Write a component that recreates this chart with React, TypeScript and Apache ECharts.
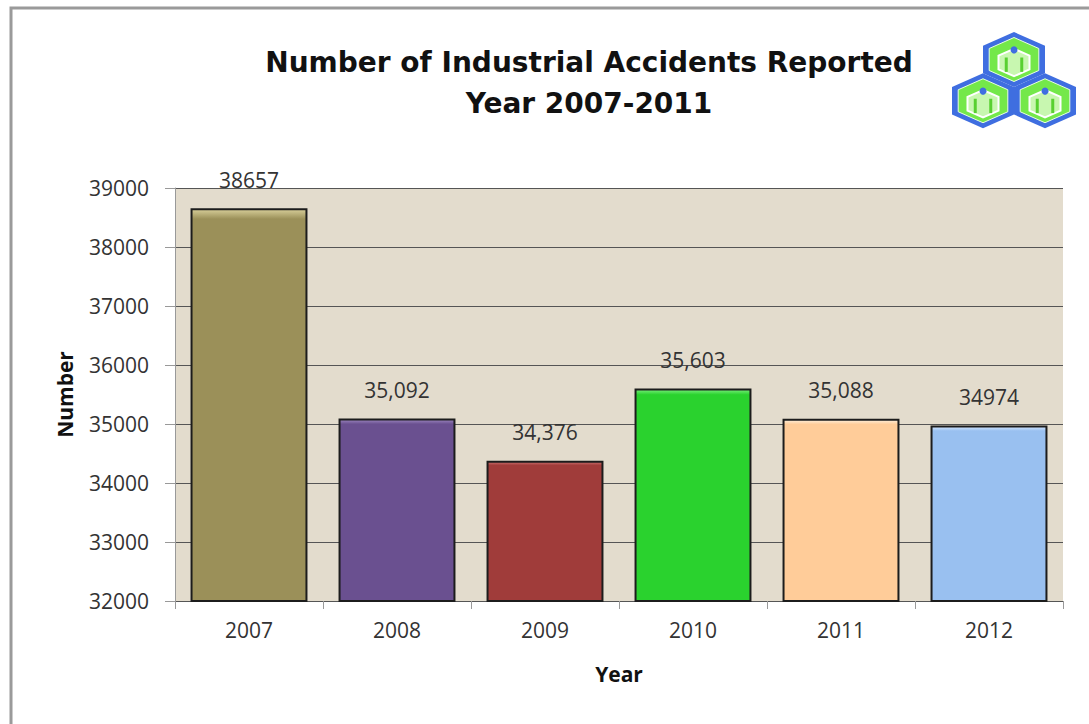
import React, { useEffect, useRef } from "react";
import * as echarts from "echarts";

const categories = ["2007", "2008", "2009", "2010", "2011", "2012"];
const values = [38657, 35092, 34376, 35603, 35088, 34974];
const labelTexts = ["38657", "35,092", "34,376", "35,603", "35,088", "34974"];
const barColors = ["#9b9059", "#6a5090", "#a03c3a", "#2ad22e", "#ffcc99", "#99c0f0"];
const barTops = ["#d8cf9a", "#9c86c0", "#cf7270", "#7bf07e", "#fff0dc", "#d6e8ff"];

function hexPoints(cx: number, cy: number, w: number, h: number): number[][] {
  return [
    [cx, cy - h],
    [cx + w, cy - h / 2],
    [cx + w, cy + h / 2],
    [cx, cy + h],
    [cx - w, cy + h / 2],
    [cx - w, cy - h / 2],
  ];
}

function buildLogo(): any[] {
  const w = 31;
  const h = 27.5;
  const cx = 1014;
  const cy = 59.5;
  const centers = [
    [cx, cy],
    [cx - w, cy + 1.5 * h],
    [cx + w, cy + 1.5 * h],
  ];
  const els: any[] = [];
  centers.forEach(([x, y]) => {
    els.push({ type: "polygon", shape: { points: hexPoints(x, y, w, h) }, style: { fill: "#3f6ee0" } });
  });
  centers.forEach(([x, y]) => {
    els.push({ type: "polygon", shape: { points: hexPoints(x, y, w * 0.8, h * 0.8) }, style: { fill: "#74e84a", stroke: "#e8ffe0", lineWidth: 1 } });
    els.push({ type: "polygon", shape: { points: hexPoints(x, y + 3, w * 0.5, h * 0.5) }, style: { fill: "#c8f7b0", stroke: "#ffffff", lineWidth: 2 } });
    els.push({ type: "line", shape: { x1: x - w * 0.25, y1: y - 2, x2: x - w * 0.25, y2: y + h * 0.45 }, style: { stroke: "#58d030", lineWidth: 3 } });
    els.push({ type: "line", shape: { x1: x + w * 0.25, y1: y - 2, x2: x + w * 0.25, y2: y + h * 0.45 }, style: { stroke: "#58d030", lineWidth: 3 } });
    els.push({ type: "circle", shape: { cx: x, cy: y - h * 0.35, r: 3.5 }, style: { fill: "#3f6ee0" } });
  });
  return els;
}

export default function App() {
  const ref = useRef<HTMLDivElement>(null);
  useEffect(() => {
    if (!ref.current) return;
    const chart = echarts.init(ref.current, undefined, { renderer: "svg" });
    const font = "'Open Sans', sans-serif";
    chart.setOption({
      animation: false,
      backgroundColor: "#ffffff",
      title: {
        text: "Number of Industrial Accidents Reported\nYear 2007-2011",
        left: 584,
        top: 37,
        textAlign: "center",
        textStyle: {
          fontFamily: "'DejaVu Sans', sans-serif",
          fontSize: 28,
          fontWeight: "bold",
          color: "#111",
          lineHeight: 41,
        },
      },
      grid: {
        left: 175,
        top: 188,
        width: 888,
        height: 413,
        show: true,
        backgroundColor: "#e3dccd",
        borderWidth: 0,
      },
      xAxis: {
        type: "category",
        data: categories,
        name: "Year",
        nameLocation: "middle",
        nameGap: 62,
        nameTextStyle: { fontFamily: font, fontSize: 21, fontWeight: "bold", color: "#111" },
        axisLine: { lineStyle: { color: "#555", width: 1 } },
        axisTick: { show: true, alignWithLabel: false, length: 8, lineStyle: { color: "#999" } },
        axisLabel: { fontFamily: font, fontSize: 21, color: "#333", margin: 18 },
      },
      yAxis: {
        type: "value",
        min: 32000,
        max: 39000,
        interval: 1000,
        name: "Number",
        nameLocation: "middle",
        nameGap: 100,
        nameRotate: 90,
        nameTextStyle: { fontFamily: font, fontSize: 21, fontWeight: "bold", color: "#111" },
        axisLine: { show: true, lineStyle: { color: "#999", width: 1 } },
        axisTick: { show: true, length: 10, lineStyle: { color: "#999" } },
        axisLabel: { fontFamily: font, fontSize: 21, color: "#333", margin: 26, formatter: (v: number) => String(v) },
        splitLine: { lineStyle: { color: "#555", width: 1 } },
      },
      series: [
        {
          type: "bar",
          barCategoryGap: "21%",
          data: values.map((v, i) => ({
            value: v,
            itemStyle: {
              color: new echarts.graphic.LinearGradient(0, 0, 0, 1, [
                { offset: 0, color: barTops[i] },
                { offset: 0.025, color: barColors[i] },
                { offset: 0.97, color: barColors[i] },
                { offset: 1, color: barColors[i] },
              ]),
              borderColor: "#1c1c1c",
              borderWidth: 2,
            },
          })),
          label: {
            show: true,
            position: "top",
            distance: 18,
            fontFamily: font,
            fontSize: 21,
            color: "#333",
            formatter: (p: any) => labelTexts[p.dataIndex],
          },
        },
      ],
      graphic: [
        {
          type: "rect",
          shape: { x: 11, y: 8, width: 1120, height: 800 },
          style: { fill: "none", stroke: "#9a9a9a", lineWidth: 3 },
          silent: true,
        },
        ...buildLogo(),
      ],
    });
    return () => chart.dispose();
  }, []);
  return (
    <div
      ref={ref}
      style={{ position: "fixed", left: 0, top: 0, width: 1089, height: 724 }}
    />
  );
}
